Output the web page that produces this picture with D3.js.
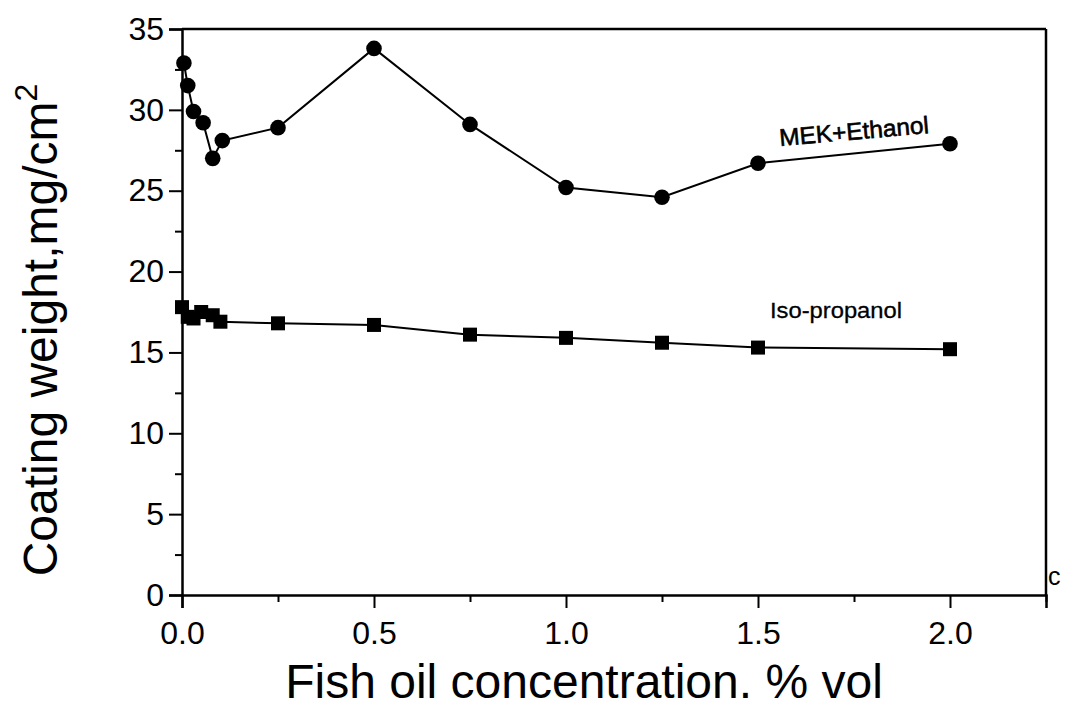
<!DOCTYPE html>
<html>
<head>
<meta charset="utf-8">
<script src="https://cdn.jsdelivr.net/npm/d3@7"></script>
<style>
  html, body { margin: 0; padding: 0; background: #fff; }
  svg { display: block; }
  text { font-family: "Liberation Sans", Arial, sans-serif; fill: #000; }
</style>
</head>
<body>
<svg id="chart" width="1065" height="710"></svg>
<script>
// Fish oil concentration (% vol) for each measured point
const mekX = [0.005, 0.015, 0.03, 0.055, 0.08, 0.105, 0.25, 0.5, 0.75, 1.0, 1.25, 1.5, 2.0];
const mekY = [32.9, 31.5, 29.9, 29.2, 27.0, 28.1, 28.9, 33.8, 29.1, 25.2, 24.6, 26.7, 27.9];

const isoX = [0.0, 0.015, 0.03, 0.05, 0.08, 0.1, 0.25, 0.5, 0.75, 1.0, 1.25, 1.5, 2.0];
const isoY = [17.8, 17.2, 17.1, 17.5, 17.3, 16.9, 16.8, 16.7, 16.1, 15.9, 15.6, 15.3, 15.2];

const xMajorTicks = [0, 0.5, 1.0, 1.5, 2.0];
const xMinorTicks = [0.25, 0.75, 1.25, 1.75, 2.25];
const yMajorTicks = [0, 5, 10, 15, 20, 25, 30, 35];
const yMinorTicks = [2.5, 7.5, 12.5, 17.5, 22.5, 27.5, 32.5];

const seriesLabels = ["MEK+Ethanol", "Iso-propanol"];
const xTitle = "Fish oil concentration. % vol";
const yTitle = "Coating weight,mg/cm";

const svg = d3.select("#chart");

const plotLeft = 182, plotRight = 1046, plotTop = 29, plotBottom = 595;
const x = d3.scaleLinear().domain([0, 2.25]).range([plotLeft, plotRight]);
const y = d3.scaleLinear().domain([0, 35]).range([plotBottom, plotTop]);

const axisStroke = 2.5;

// frame: top and right borders
svg.append("line").attr("x1", plotLeft).attr("x2", plotRight).attr("y1", plotTop).attr("y2", plotTop)
  .attr("stroke", "#000").attr("stroke-width", axisStroke);
svg.append("line").attr("x1", plotRight).attr("x2", plotRight).attr("y1", plotTop).attr("y2", plotBottom)
  .attr("stroke", "#000").attr("stroke-width", axisStroke);

// bottom axis
svg.append("g").attr("transform", `translate(0,${plotBottom})`)
  .call(d3.axisBottom(x).tickValues(xMajorTicks).tickSize(13).tickPadding(13)
    .tickFormat(d3.format(".1f")));
svg.append("g").attr("transform", `translate(0,${plotBottom})`)
  .call(d3.axisBottom(x).tickValues(xMinorTicks).tickSize(7).tickFormat(""))
  .select(".domain").remove();

// left axis
svg.append("g").attr("transform", `translate(${plotLeft},0)`)
  .call(d3.axisLeft(y).tickValues(yMajorTicks).tickSize(13).tickPadding(5)
    .tickFormat(d3.format("d")));
svg.append("g").attr("transform", `translate(${plotLeft},0)`)
  .call(d3.axisLeft(y).tickValues(yMinorTicks).tickSize(7).tickFormat(""))
  .select(".domain").remove();

svg.selectAll(".domain").attr("stroke", "#000").attr("stroke-width", axisStroke);
svg.selectAll(".tick line").attr("stroke", "#000").attr("stroke-width", 2);
svg.selectAll(".tick text").attr("font-size", 32)
  .attr("font-family", "'Liberation Sans', Arial, sans-serif").attr("fill", "#000");

// axis titles
svg.append("text")
  .attr("x", 584).attr("y", 698)
  .attr("text-anchor", "middle")
  .attr("font-size", 48)
  .text(xTitle);

const yt = svg.append("text")
  .attr("transform", "translate(57,330) rotate(-90)")
  .attr("text-anchor", "middle")
  .attr("font-size", 48);
yt.append("tspan").text(yTitle);
yt.append("tspan").attr("font-size", 32).attr("dy", -20).text("2");

// series lines
const line = d3.line().x(d => x(d[0])).y(d => y(d[1]));
const mekData = mekX.map((v, i) => [v, mekY[i]]);
const isoData = isoX.map((v, i) => [v, isoY[i]]);

svg.append("path").datum(mekData).attr("d", line)
  .attr("fill", "none").attr("stroke", "#000").attr("stroke-width", 2);
svg.append("path").datum(isoData).attr("d", line)
  .attr("fill", "none").attr("stroke", "#000").attr("stroke-width", 2);

// markers
svg.append("g").selectAll("circle").data(mekData).join("circle")
  .attr("cx", d => x(d[0])).attr("cy", d => y(d[1])).attr("r", 7.8)
  .attr("fill", "#000");
const sq = 14;
svg.append("g").selectAll("rect").data(isoData).join("rect")
  .attr("x", d => x(d[0]) - sq / 2).attr("y", d => y(d[1]) - sq / 2)
  .attr("width", sq).attr("height", sq).attr("fill", "#000");

// series labels
svg.append("text")
  .attr("transform", "translate(780,146) rotate(-5)")
  .attr("font-size", 24)
  .attr("stroke", "#000").attr("stroke-width", 0.6)
  .attr("textLength", 150).attr("lengthAdjust", "spacingAndGlyphs")
  .text(seriesLabels[0]);
svg.append("text")
  .attr("x", 770).attr("y", 318)
  .attr("font-size", 22)
  .attr("stroke", "#000").attr("stroke-width", 0.3)
  .attr("textLength", 132).attr("lengthAdjust", "spacingAndGlyphs")
  .text(seriesLabels[1]);

// panel letter at the right edge
svg.append("text").attr("x", 1048).attr("y", 585).attr("font-size", 25).text("c");
</script>
</body>
</html>
